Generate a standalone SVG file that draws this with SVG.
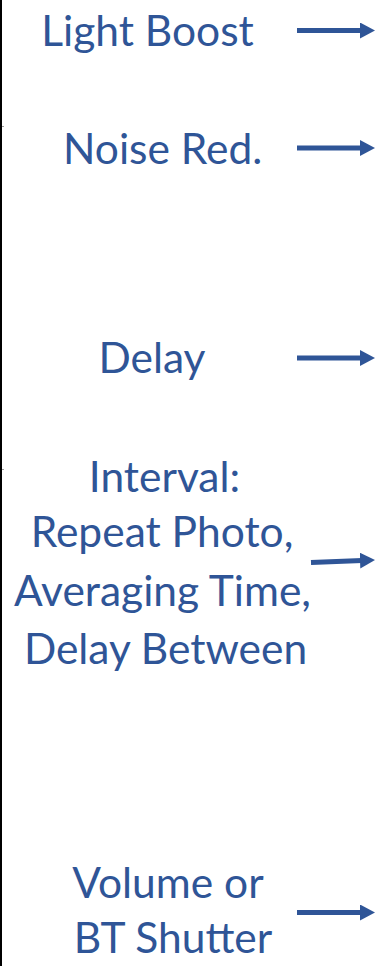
<svg xmlns="http://www.w3.org/2000/svg" width="375" height="966" viewBox="0 0 375 966">
  <defs>
    <style>
      .lbl { font-family: Lato, "Open Sans", "Liberation Sans", sans-serif; font-size: 42.5px; fill: #2F5597; text-anchor: middle; }
      .arrow { stroke: #2F5597; stroke-width: 5; fill: none; marker-end: url(#head); }
    </style>
    <marker id="head" markerUnits="userSpaceOnUse" markerWidth="16" markerHeight="16" refX="2" refY="8" orient="auto">
      <path d="M0,0 L15,8 L0,16 z" fill="#2F5597"/>
    </marker>
  </defs>
  <rect width="375" height="966" fill="#FFFFFF"/>
  <!-- frame edge on the left -->
  <rect x="0" y="0" width="2" height="966" fill="#000000"/>
  <rect x="2" y="126" width="2" height="1" fill="#9A9A9A"/>
  <rect x="2" y="469" width="2" height="1" fill="#9A9A9A"/>

  <g id="connectors">
    <line class="arrow" x1="297" y1="30.5" x2="362" y2="30.5"/>
    <line class="arrow" x1="297" y1="148" x2="362" y2="148"/>
    <line class="arrow" x1="297" y1="358" x2="362" y2="358"/>
    <line class="arrow" x1="311" y1="562.5" x2="362" y2="560.5"/>
    <line class="arrow" x1="297" y1="912.5" x2="362" y2="912.5"/>
  </g>

  <g id="light-boost">
    <text class="lbl" x="147.5" y="46">Light Boost</text>
  </g>
  <g id="noise-red">
    <text class="lbl" x="162.7" y="164">Noise Red.</text>
  </g>
  <g id="delay">
    <text class="lbl" x="152" y="373">Delay</text>
  </g>
  <g id="interval">
    <text class="lbl" x="164.5" y="492">Interval:</text>
    <text class="lbl" x="162" y="547">Repeat Photo,</text>
    <text class="lbl" x="162.5" y="606">Averaging Time,</text>
    <text class="lbl" x="165.5" y="664">Delay Between</text>
  </g>
  <g id="volume">
    <text class="lbl" x="168" y="898">Volume or</text>
    <text class="lbl" x="173" y="953">BT Shutter</text>
  </g>
</svg>
